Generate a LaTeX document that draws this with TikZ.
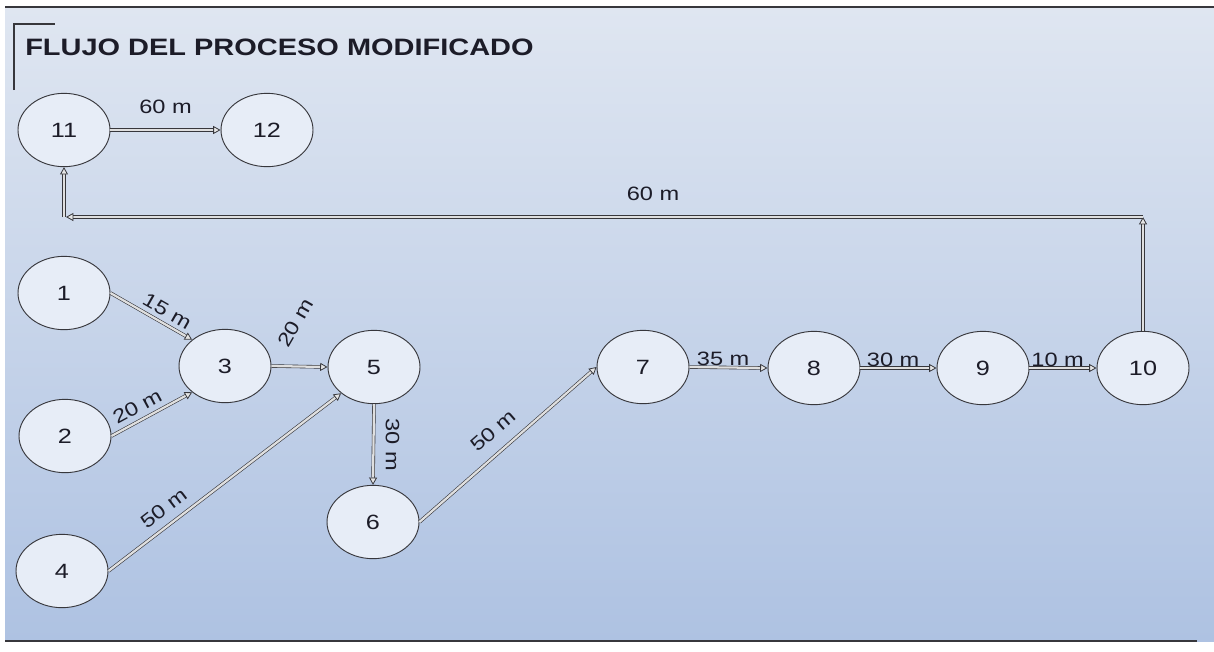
\documentclass[tikz,border=0pt]{standalone}
\usepackage{fontspec}
\setmainfont{Liberation Sans}[FakeStretch=1.22]
\usetikzlibrary{shapes.geometric,arrows.meta,positioning}
\definecolor{fondoarriba}{RGB}{223,230,241}
\definecolor{fondoabajo}{RGB}{174,194,226}
\definecolor{nodofill}{RGB}{231,237,247}
\definecolor{borde}{RGB}{55,55,60}
\definecolor{texto}{RGB}{28,28,40}

\begin{document}
\begin{tikzpicture}[x=0.75pt,y=-0.75pt,
  estacion/.style={ellipse,draw=borde,fill=nodofill,line width=0.7pt,
    minimum width=69pt,minimum height=55pt,inner sep=0pt,text=texto,
    font=\fontsize{15.5}{18}\selectfont},
  flujo/.style={draw=borde,double=gray!25,double distance=1.7pt,line width=0.45pt,
    -{Triangle[open,length=5.5pt,width=6pt,line width=0.6pt,fill=gray!20]}},
  dist/.style={font=\fontsize{14.5}{17}\selectfont,text=texto,inner sep=1pt}]

\useasboundingbox (0,0) rectangle (1214,651);

% Fondo
\shade[top color=fondoarriba,bottom color=fondoabajo] (5,7) rectangle (1214,641);
\draw[borde,line width=1.1pt] (5,7) -- (1214,7);
\draw[borde,line width=1.1pt] (5,641) -- (1197,641);

% Titulo
\draw[borde,line width=0.8pt] (14,90) -- (14,24) -- (55,24);
\node[anchor=base west,inner sep=0pt,text=texto,font=\bfseries\fontsize{17.8}{20}\selectfont] (titulo) at (25,55) {FLUJO DEL PROCESO MODIFICADO};

% Estaciones
\node[estacion] (e11) at (64,130) {11};
\node[estacion] (e12) at (267,130) {12};
\node[estacion] (e1) at (64,293) {1};
\node[estacion] (e2) at (65,436) {2};
\node[estacion] (e3) at (225,366) {3};
\node[estacion] (e4) at (62,571) {4};
\node[estacion] (e5) at (374,367) {5};
\node[estacion] (e6) at (373,522) {6};
\node[estacion] (e7) at (643,367) {7};
\node[estacion] (e8) at (814,368) {8};
\node[estacion] (e9) at (983,368) {9};
\node[estacion] (e10) at (1143,368) {10};

% Esquinas del retorno
\coordinate (esqD) at (e10.north |- 0,217);
\coordinate (esqI) at (e11.south |- 0,217);

% Flujos
\draw[flujo] (e1.east) -- node[dist,pos=0.62,sloped,above=3pt] {15 m} (e3.north west);
\draw[flujo] (e2.east) -- node[dist,pos=0.4,sloped,above=4pt] {20 m} (e3.south west);
\draw[flujo] (e3.east) -- node[dist,midway,xshift=-3pt,yshift=33pt,rotate=60] {20 m} (e5.west);
\draw[flujo] (e4.east) -- node[dist,pos=0.28,sloped,above=6pt] {50 m} (e5.south west);
\draw[flujo] (e5.south) -- node[dist,midway,rotate=-90,anchor=south,yshift=8pt] {30 m} (e6.north);
\draw[flujo] (e6.east) -- node[dist,pos=0.49,sloped,above=9pt] {50 m} (e7.west);
\draw[flujo] (e7.east) -- node[dist,midway,above,xshift=-4pt] {35 m} (e8.west);
\draw[flujo] (e8.east) -- node[dist,midway,above,xshift=-4pt] {30 m} (e9.west);
\draw[flujo] (e9.east) -- node[dist,midway,above,xshift=-4pt] {10 m} (e10.west);
\draw[flujo] (e10.north) -- (esqD);
\draw[flujo] (esqD) -- node[dist,pos=0.455,above=11pt] {60 m} ([xshift=1.5pt]esqI);
\draw[flujo] (esqI) -- (e11.south);
\draw[flujo] (e11.east) -- node[dist,midway,above=11pt] {60 m} (e12.west);
\end{tikzpicture}
\end{document}
